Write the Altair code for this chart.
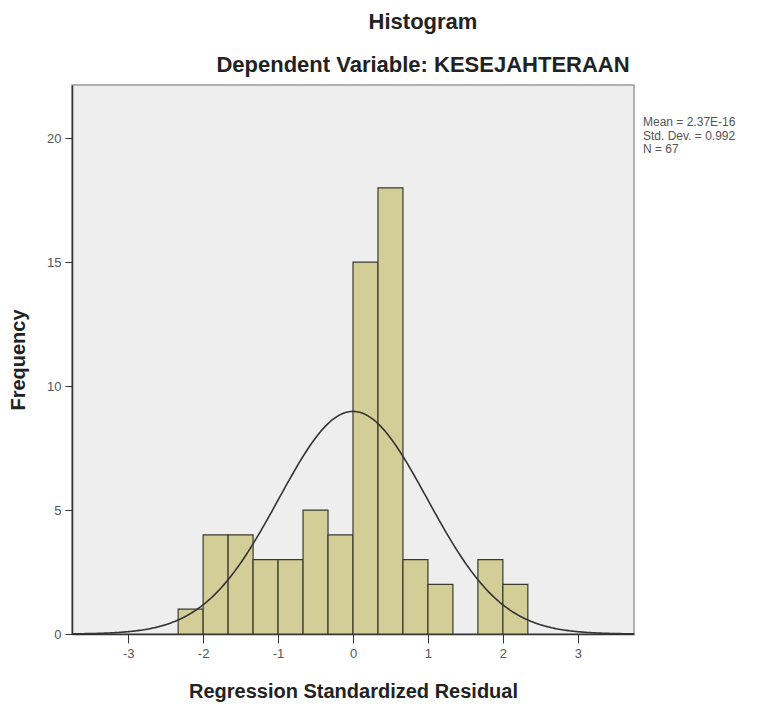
import altair as alt
import pandas as pd

# ---- data ----
bin_lower = [-2.3333, -2.0, -1.6667, -1.3333, -1.0, -0.6667, -0.3333,
             0.0, 0.3333, 0.6667, 1.0, 1.6667, 2.0]
bin_upper = [-2.0, -1.6667, -1.3333, -1.0, -0.6667, -0.3333, 0.0,
             0.3333, 0.6667, 1.0, 1.3333, 2.0, 2.3333]
frequency = [1, 4, 4, 3, 3, 5, 4, 15, 18, 3, 2, 3, 2]

mean_val = 2.37e-16
std_dev = 0.992
n_obs = 67
bin_width = 1.0 / 3.0

stats_lines = ["Mean = 2.37E-16", "Std. Dev. = 0.992", "N = 67"]
title_text = "Histogram"
subtitle_text = "Dependent Variable: KESEJAHTERAAN"
x_title = "Regression Standardized Residual"
y_title = "Frequency"
x_ticks = [-3, -2, -1, 0, 1, 2, 3]
y_ticks = [0, 5, 10, 15, 20]

FONT = "Liberation Sans"
W, H = 562, 549

bars_df = pd.DataFrame({"lo": bin_lower, "hi": bin_upper, "freq": frequency})

xscale = alt.Scale(domain=[-3.75, 3.75], nice=False, zero=False)
yscale = alt.Scale(domain=[0, 22.15], nice=False)

x_axis = alt.Axis(
    values=x_ticks, labelExpr="'' + datum.value", grid=False,
    domainColor="#333333", domainWidth=1.5, tickColor="#333333", tickSize=9,
    labelColor="#555555", labelFontSize=13, labelPadding=4, labelFont=FONT,
    title=x_title, titleFont=FONT, titleFontSize=20, titleFontWeight="bold",
    titleColor="#222222", titleX=W / 2, titleY=57, titleAlign="center",
    titleBaseline="middle",
)
y_axis = alt.Axis(
    values=y_ticks, grid=False,
    domainColor="#333333", domainWidth=1.5, tickColor="#333333", tickSize=7,
    labelColor="#555555", labelFontSize=13, labelPadding=4, labelFont=FONT,
    title=y_title, titleFont=FONT, titleFontSize=20, titleFontWeight="bold",
    titleColor="#222222", titleX=-54, titleY=H / 2, titleAngle=-90,
    titleAlign="center", titleBaseline="middle",
)

bars = alt.Chart(bars_df).mark_bar(
    fill="#D3CE97", stroke="#3A3A2E", strokeWidth=1.2
).encode(
    x=alt.X("lo:Q", scale=xscale, axis=x_axis),
    x2="hi:Q",
    y=alt.Y("freq:Q", scale=yscale, axis=y_axis),
    y2=alt.datum(0),
)

curve = alt.Chart(alt.sequence(-3.75, 3.7501, 0.02, as_="x")).transform_calculate(
    dens=f"{n_obs} * {bin_width} * exp(-0.5 * pow((datum.x - {mean_val}) / {std_dev}, 2)) / ({std_dev} * sqrt(2 * PI))"
).mark_line(color="#333333", strokeWidth=1.6).encode(
    x=alt.X("x:Q", scale=xscale),
    y=alt.Y("dens:Q", scale=yscale),
)

one = pd.DataFrame({"k": [0]})

title_mark = alt.Chart(one).mark_text(
    text=title_text, font=FONT, fontSize=22, fontWeight="bold",
    color="#222222", align="center", baseline="alphabetic",
).encode(x=alt.value(351), y=alt.value(-56))

subtitle_mark = alt.Chart(one).mark_text(
    text=subtitle_text, font=FONT, fontSize=22, fontWeight="bold",
    color="#222222", align="center", baseline="alphabetic",
).encode(x=alt.value(351), y=alt.value(-13))

stats_mark = alt.Chart(one).mark_text(
    text=stats_lines, font=FONT, fontSize=12, color="#555555",
    align="left", baseline="middle", lineHeight=13.5,
).encode(x=alt.value(571), y=alt.value(37))

chart = alt.layer(bars, curve, title_mark, subtitle_mark, stats_mark).properties(
    width=W, height=H,
    autosize=alt.AutoSizeParams(type="none"),
    padding={"left": 72, "top": 85, "right": 761 - 72 - W, "bottom": 704 - 85 - H},
    background="white",
).configure_view(
    fill="#EEEEEE", stroke="#9A9A9A", strokeWidth=1.5,
)

chart.save("out.html", embed_options={"renderer": "svg", "actions": False})
